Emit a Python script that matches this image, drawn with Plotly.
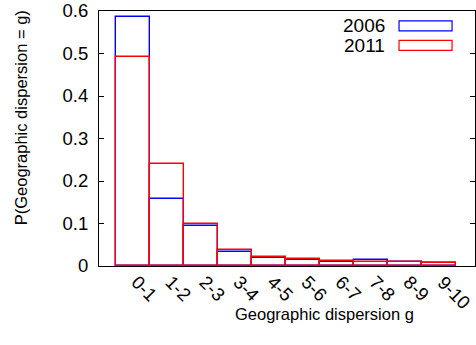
import plotly.graph_objects as go

categories = ["0-1", "1-2", "2-3", "3-4", "4-5", "5-6", "6-7", "7-8", "8-9", "9-10"]
positions = list(range(len(categories)))
p2006 = [0.585, 0.158, 0.095, 0.034, 0.018, 0.013, 0.0095, 0.013, 0.009, 0.008]
p2011 = [0.491, 0.239, 0.100, 0.037, 0.022, 0.0165, 0.0125, 0.010, 0.010, 0.0075]
yticks = [0, 0.1, 0.2, 0.3, 0.4, 0.5, 0.6]
yticklabels = ["0", "0.1", "0.2", "0.3", "0.4", "0.5", "0.6"]

FONT = "Liberation Sans, Arial, Helvetica, sans-serif"

fig = go.Figure()
for name, vals, col in [("2006", p2006, "#0000ff"), ("2011", p2011, "#ff0000")]:
    fig.add_trace(go.Bar(
        x=positions, y=vals, name=name, width=1.0,
        marker=dict(color="rgba(255,255,255,0)", line=dict(color=col, width=1.4)),
        showlegend=False, cliponaxis=False,
    ))

# rotated category labels (gnuplot style: hanging down-right from each bar centre)
for pos, lab in zip(positions, categories):
    fig.add_annotation(xref="x", yref="paper", x=pos, y=-0.016, text=lab,
                       showarrow=False, textangle=45, xanchor="left", yanchor="top",
                       xshift=-7, borderpad=0,
                       font=dict(family=FONT, size=18.5, color="black"))

# custom gnuplot-style legend (text right, sample box)
legend_items = [("2006", "#0000ff", 0.942), ("2011", "#ff0000", 0.8655)]
for name, col, yc in legend_items:
    fig.add_annotation(xref="paper", yref="paper", x=0.765, y=yc, text=name,
                       showarrow=False, xanchor="right", yanchor="middle",
                       font=dict(family=FONT, size=19, color="black"))
    fig.add_shape(type="rect", xref="paper", yref="paper",
                  x0=0.798, x1=0.939, y0=yc - 0.0196, y1=yc + 0.0196,
                  line=dict(color=col, width=1.2), fillcolor="rgba(0,0,0,0)")

# axis titles
fig.add_annotation(xref="paper", yref="paper", x=0.601, y=-0.19,
                   text="Geographic dispersion g", showarrow=False,
                   xanchor="center", yanchor="middle",
                   font=dict(family=FONT, size=16.5, color="black"))
fig.add_annotation(xref="paper", yref="paper", x=-0.207, y=0.58,
                   text="P(Geographic dispersion = g)", showarrow=False, textangle=-90,
                   xanchor="center", yanchor="middle",
                   font=dict(family=FONT, size=16.5, color="black"))

fig.update_layout(
    width=476, height=345,
    margin=dict(l=99, r=1, t=11, b=79),
    paper_bgcolor="white", plot_bgcolor="white",
    barmode="overlay", bargap=0,
    font=dict(family=FONT, size=18.5, color="black"),
    xaxis=dict(
        range=[-1, 10.05], tickmode="array", tickvals=positions, ticktext=categories,
        showticklabels=False, ticks="", showline=True, linecolor="black", linewidth=1,
        mirror=True, showgrid=False, zeroline=False, automargin=False,
    ),
    yaxis=dict(
        range=[0, 0.6], tickmode="array", tickvals=yticks, ticktext=yticklabels,
        ticks="inside", ticklen=5, tickcolor="black", showline=True, linecolor="black",
        linewidth=1, mirror="ticks", showgrid=False, zeroline=False, automargin=False,
        ticklabelstandoff=6,
    ),
)

post = "document.body.style.margin='0';"
fig.write_html("out.html", post_script=post, config={"displayModeBar": False})
